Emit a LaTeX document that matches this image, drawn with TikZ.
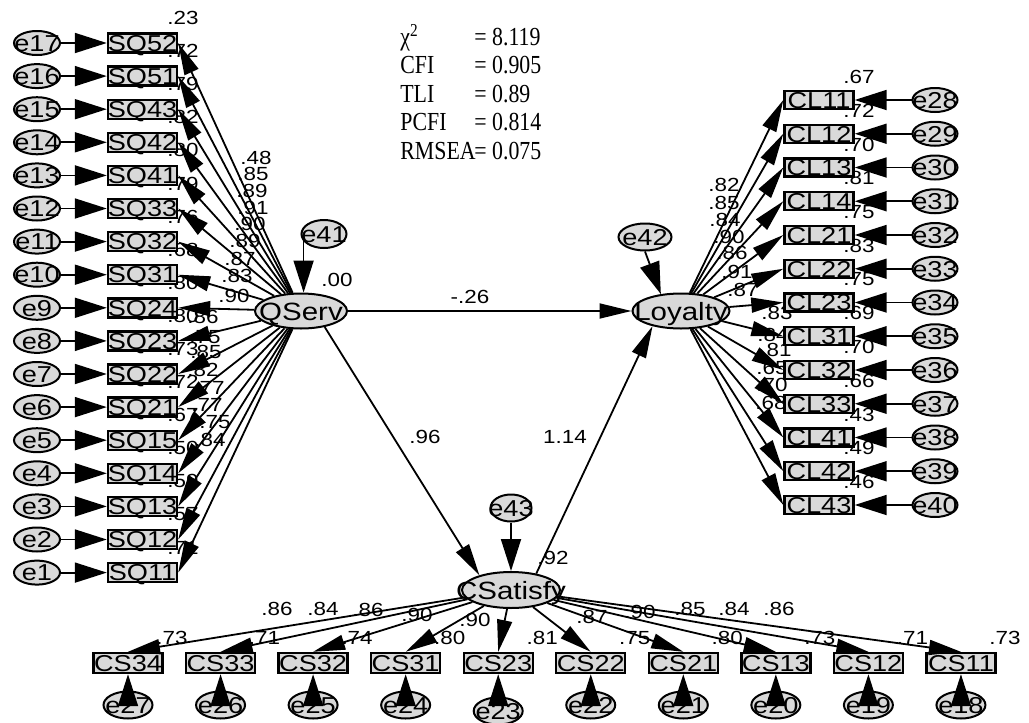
\documentclass[tikz,border=0pt]{standalone}
\usepackage{fontspec}
\setmainfont{Liberation Sans}[FakeStretch=1.18]
\newfontfamily\fitfont{Liberation Serif}[FakeStretch=0.84]
\usetikzlibrary{arrows.meta,positioning,shapes.geometric,calc}
\newcommand{\zb}[1]{\makebox[0pt]{\raisebox{-0.36em}[0pt][0pt]{#1}}}

\begin{document}
\begin{tikzpicture}[x=0.5pt,y=-0.5pt,
  obs/.style={rectangle,draw,line width=1.2pt,fill=gray!30,minimum width=34.5pt,minimum height=9.5pt,inner sep=0pt,font=\fontsize{11.5}{11.5}\selectfont},
  err/.style={ellipse,draw,line width=1pt,fill=gray!30,minimum width=23pt,minimum height=12pt,inner sep=0pt,font=\fontsize{11.5}{11.5}\selectfont},
  lat/.style={ellipse,draw,line width=1pt,fill=gray!30,minimum width=46pt,minimum height=17.5pt,inner sep=0pt,font=\fontsize{12.5}{12.5}\selectfont},
  load/.style={-{Triangle[length=16pt,width=7.5pt]},line width=0.9pt},
  epath/.style={-{Triangle[length=16pt,width=10pt]},line width=0.9pt},
  est/.style={font=\fontsize{9.5}{9.5}\selectfont,inner sep=0pt},
  stat/.style={font=\fitfont\fontsize{13}{13}\selectfont,inner sep=0pt}]
  \useasboundingbox (0,0) rectangle (1029,723);
  % fit indices
  \foreach \k/\v [count=\r] in {χ\textsuperscript{2}/8.119,CFI/0.905,TLI/0.89,PCFI/0.814,RMSEA/0.075} {
    \pgfmathsetmacro{\y}{45+28.5*(\r-1)}
    \node[stat,anchor=base west] (fitk\r) at (400,\y) {\k};
    \node[stat,anchor=base west] (fitv\r) at (474,\y) {= \v};
  }
  % estimates (drawn first, arrows go over them)
  \foreach \t [count=\i from 0] in {.23,.72,.79,.82,.80,.79,.76,.68,.80,.80,.73,.72,.67,.50,.59,.57,.71}
    \node[est,anchor=west] (rSQ\i) at (167,{18+33.1*\i}) {\t};
  \foreach \t/\x/\y [count=\i] in {.48/256/158,.85/253/174,.89/252/191,.91/253/208,.90/250/224,
      .89/245/241,.87/240/259,.83/237/276,.90/234/296,.86/203/317,.75/205/337,.85/206/352,
      .82/203/370,.77/209/388,.77/207/405,.75/215/422,.84/210/440}
    \node[est] (lSQ\i) at (\x,\y) {\t};
  \foreach \t [count=\i from 0] in {.67,.72,.70,.81,.75,.83,.75,.69,.70,.66,.43,.49,.46}
    \node[est,anchor=west] (rCL\i) at (843,{77+33.75*\i}) {\t};
  \foreach \t/\x/\y [count=\i] in {.82/724/185,.85/724/203,.84/725/220,.90/729/237,.86/732/253,
      .91/737/272,.87/743/290,.83/777/313,.84/773/335,.81/776/350,.65/772/368,.70/772/385,.68/771/403}
    \node[est] (lCL\i) at (\x,\y) {\t};
  \foreach \t [count=\i from 0] in {.73,.71,.74,.80,.81,.75,.80,.73,.71,.73}
    \node[est,anchor=west] (rCS\i) at ({156+92.55*\i},638) {\t};
  \foreach \t/\x/\y [count=\i] in {.86/277/609,.84/323/609,.86/368/610,.90/417/615,.90/475/620,
      .87/592/617,.90/640/612,.85/690/609,.84/734/609,.86/779/609}
    \node[est] (lCS\i) at (\x,\y) {\t};
  \node[est] (rQServ) at (337,280) {.00};
  \node[est] (rCSat) at (553,558) {.92};
  \node[est] (bQL) at (470,297) {-.26};
  \node[est] (bQC) at (425,437) {.96};
  \node[est] (bCL) at (565,437) {1.14};
  % latent variables
  \node[lat] (QServ) at (301,311) {\zb{QServ}};
  \node[lat,minimum width=48.5pt] (Loyalty) at (681,311) {\zb{Loyalty}};
  \node[lat,minimum width=49pt,minimum height=18pt] (CSatisfy) at (511,590) {\zb{CSatisfy}};
  \node[err,minimum width=22.5pt,minimum height=14pt] (e41) at (324,234) {\zb{e41}};
  \node[err,minimum width=26.5pt,minimum height=13.5pt] (e42) at (645,237) {\zb{e42}};
  \node[err,minimum width=20.5pt,minimum height=13.5pt] (e43) at (511,508) {\zb{e43}};
  \draw[epath] (e41.-160) -- (e41.-160 |- QServ.north);
  \draw[epath] (e42.south) -- (Loyalty.140);
  \draw[epath] (e43) -- (CSatisfy);
  % structural paths
  \draw[load] (QServ) -- (Loyalty);
  \draw[load] (QServ.-34) -- (CSatisfy.155);
  \draw[load] (CSatisfy.33) -- (Loyalty.-152);
  % QServ indicators
  \foreach \n [count=\i from 0] in {52,51,43,42,41,33,32,31,24,23,22,21,15,14,13,12,11} {
    \pgfmathsetmacro{\y}{43+33.1*\i}
    \pgfmathtruncatemacro{\e}{17-\i}
    \node[obs] (SQ\n) at (142.5,\y) {\zb{SQ\n}};
    \node[err] (e\e) at (37,\y) {\zb{e\e}};
    \draw[epath] (e\e) -- (SQ\n);
    \draw[load] (QServ) -- (SQ\n.east);
  }
  % Loyalty indicators
  \foreach \n [count=\i from 0] in {11,12,13,14,21,22,23,31,32,33,41,42,43} {
    \pgfmathsetmacro{\y}{100+33.75*\i}
    \pgfmathtruncatemacro{\e}{28+\i}
    \node[obs,minimum height=9pt] (CL\n) at (819,\y) {\zb{CL\n}};
    \node[err,minimum width=22.5pt] (e\e) at (935,\y) {\zb{e\e}};
    \draw[epath] (e\e) -- (CL\n);
    \draw[load] (Loyalty) -- (CL\n.west);
  }
  % CSatisfy indicators
  \foreach \n [count=\i from 0] in {34,33,32,31,23,22,21,13,12,11} {
    \pgfmathsetmacro{\x}{128+92.55*\i}
    \pgfmathtruncatemacro{\e}{27-\i}
    \pgfmathsetmacro{\ey}{\i==4 ? 711 : 705}
    \node[obs,minimum height=10pt] (CS\n) at (\x,663) {\zb{CS\n}};
    \node[err,minimum width=24.5pt,minimum height=13.5pt] (e\e) at (\x,\ey) {\zb{e\e}};
    \draw[epath] (e\e) -- (CS\n);
    \draw[load] (CSatisfy) -- (CS\n.north);
  }
\end{tikzpicture}
\end{document}
